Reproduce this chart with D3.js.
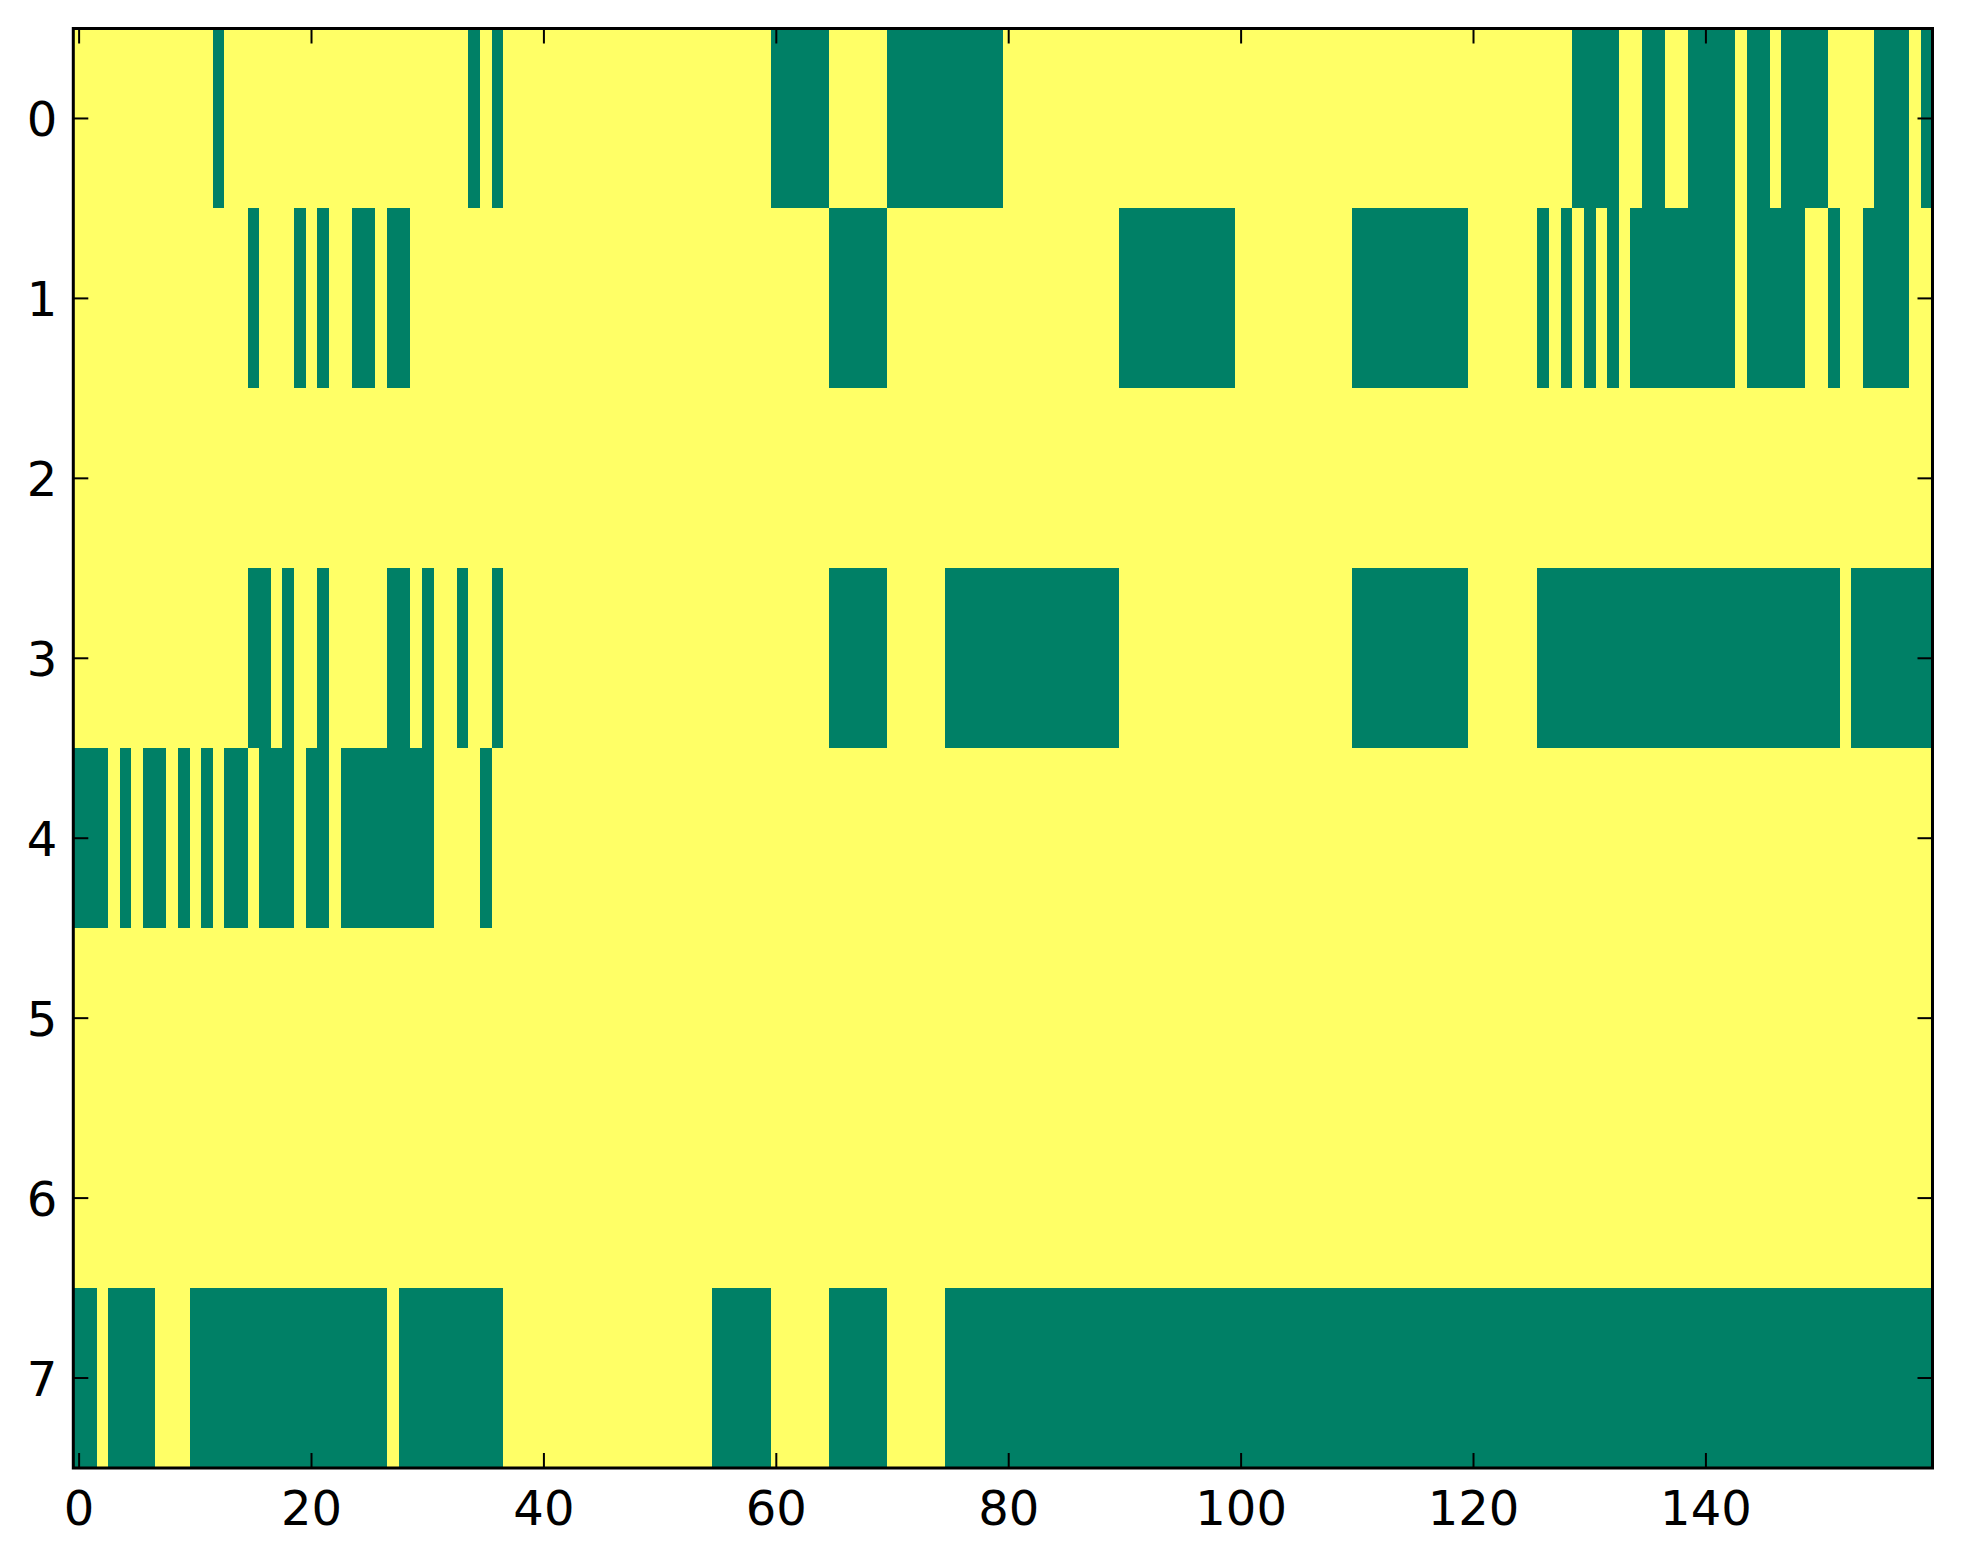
<!DOCTYPE html>
<html>
<head>
<meta charset="utf-8">
<script src="https://cdn.jsdelivr.net/npm/d3@7"></script>
<style>
  body { margin: 0; background: #fff; }
  text { font-family: "DejaVu Sans", sans-serif; font-size: 48px; fill: #000; }
</style>
</head>
<body>
<div id="chart"></div>
<script>
var width = 1963,
    height = 1564,
    margin = {top: 28.5, right: 30.5, bottom: 96, left: 73.3};

var nCols = 160,
    nRows = 8;

// Runs of zero-valued cells (green) per row, [first, last] inclusive.
// Every other cell is 1 (yellow).
var row0 = [[12, 12], [34, 34], [36, 36], [60, 64], [70, 79], [129, 132], [135, 136],
            [139, 142], [144, 145], [147, 150], [155, 157], [159, 159]];
var row1 = [[15, 15], [19, 19], [21, 21], [24, 25], [27, 28], [65, 69], [90, 99],
            [110, 119], [126, 126], [128, 128], [130, 130], [132, 132], [134, 142],
            [144, 148], [151, 151], [154, 157]];
var row2 = [];
var row3 = [[15, 16], [18, 18], [21, 21], [27, 28], [30, 30], [33, 33], [36, 36],
            [65, 69], [75, 89], [110, 119], [126, 151], [153, 159]];
var row4 = [[0, 2], [4, 4], [6, 7], [9, 9], [11, 11], [13, 14], [16, 18], [20, 21],
            [23, 30], [35, 35]];
var row5 = [];
var row6 = [];
var row7 = [[0, 1], [3, 6], [10, 26], [28, 36], [55, 59], [65, 69], [75, 159]];

var xTicks = [0, 20, 40, 60, 80, 100, 120, 140];
var yTicks = [0, 1, 2, 3, 4, 5, 6, 7];

var rows = [row0, row1, row2, row3, row4, row5, row6, row7];

// build the cell matrix
var cells = [];
rows.forEach(function(runs, r) {
    for (var c = 0; c < nCols; c++) {
        var v = 1;
        runs.forEach(function(run) { if (c >= run[0] && c <= run[1]) v = 0; });
        cells.push({row: r, col: c, value: v});
    }
});

var svg = d3.select('#chart').append('svg')
    .attr('width', width)
    .attr('height', height);

var x = d3.scaleLinear()
    .domain([-0.5, nCols - 0.5])
    .range([margin.left, width - margin.right]);
var y = d3.scaleLinear()
    .domain([-0.5, nRows - 0.5])
    .range([margin.top, height - margin.bottom]);

// matplotlib "summer" colormap end points
var color = d3.scaleLinear()
    .domain([0, 1])
    .range(['#008066', '#ffff66']);

svg.append('g')
    .attr('shape-rendering', 'crispEdges')
  .selectAll('rect')
    .data(cells)
  .enter().append('rect')
    .attr('x', function(d) { return x(d.col - 0.5); })
    .attr('y', function(d) { return y(d.row - 0.5); })
    .attr('width', function(d) { return x(d.col + 0.5) - x(d.col - 0.5); })
    .attr('height', function(d) { return y(d.row + 0.5) - y(d.row - 0.5); })
    .attr('fill', function(d) { return color(d.value); });

var x0 = x.range()[0], x1 = x.range()[1],
    y0 = y.range()[0], y1 = y.range()[1],
    tickLen = 15;

// inward ticks on all four sides
var ticks = svg.append('g').attr('stroke', '#000').attr('stroke-width', 2);
xTicks.forEach(function(t) {
    ticks.append('line').attr('x1', x(t)).attr('x2', x(t)).attr('y1', y1).attr('y2', y1 - tickLen);
    ticks.append('line').attr('x1', x(t)).attr('x2', x(t)).attr('y1', y0).attr('y2', y0 + tickLen);
});
yTicks.forEach(function(t) {
    ticks.append('line').attr('x1', x0).attr('x2', x0 + tickLen).attr('y1', y(t)).attr('y2', y(t));
    ticks.append('line').attr('x1', x1).attr('x2', x1 - tickLen).attr('y1', y(t)).attr('y2', y(t));
});

svg.append('rect')
    .attr('x', x0).attr('y', y0)
    .attr('width', x1 - x0).attr('height', y1 - y0)
    .attr('fill', 'none')
    .attr('stroke', '#000')
    .attr('stroke-width', 3);

svg.append('g').selectAll('text')
    .data(xTicks)
  .enter().append('text')
    .attr('x', function(d) { return x(d); })
    .attr('y', y1 + 57)
    .attr('text-anchor', 'middle')
    .text(function(d) { return d; });

svg.append('g').selectAll('text')
    .data(yTicks)
  .enter().append('text')
    .attr('x', x0 - 16)
    .attr('y', function(d) { return y(d) + 17.5; })
    .attr('text-anchor', 'end')
    .text(function(d) { return d; });
</script>
</body>
</html>
